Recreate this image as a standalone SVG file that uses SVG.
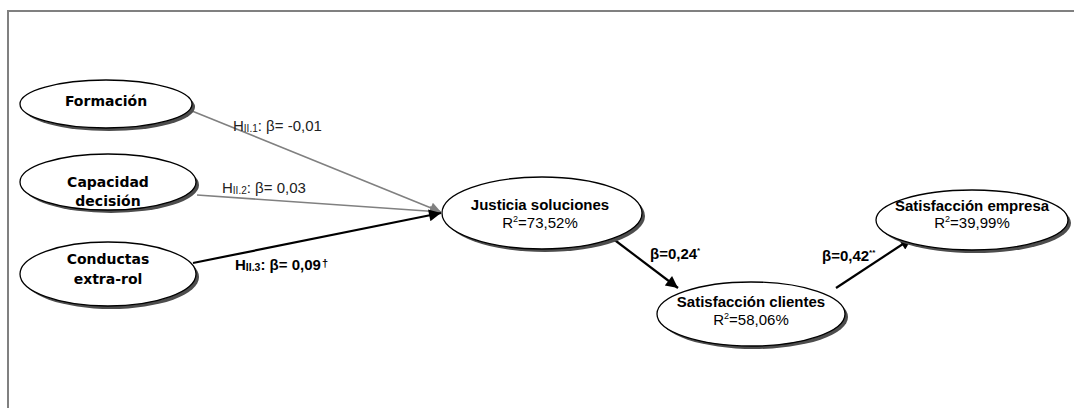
<svg xmlns="http://www.w3.org/2000/svg" width="1074" height="408" viewBox="0 0 1074 408">
  <style>
    .frame { stroke: #808080; stroke-width: 2; fill: none; }
    .shadow { fill: #4d4d4d; }
    .node { fill: #ffffff; stroke: #000000; stroke-width: 1.3; }
    .lbl-left { font-family: "DejaVu Sans", Verdana, sans-serif; font-weight: bold; font-size: 14px; fill: #000; text-anchor: middle; }
    .lbl-bold { font-family: "Liberation Sans", Arial, sans-serif; font-weight: bold; font-size: 15px; fill: #000; text-anchor: middle; }
    .lbl-reg { font-family: "Liberation Sans", Arial, sans-serif; font-size: 15px; fill: #000; text-anchor: middle; }
    .edge-gray { stroke: #808080; stroke-width: 1.6; fill: none; }
    .edge-black { stroke: #000000; stroke-width: 2.2; fill: none; }
    .elbl { font-family: "Liberation Sans", Arial, sans-serif; font-size: 15px; fill: #222; }
    .elbl-b { font-family: "Liberation Sans", Arial, sans-serif; font-size: 15px; font-weight: bold; fill: #000; }
  </style>
  <defs>
    <marker id="arrowGray" viewBox="0 0 10 10" refX="10" refY="5" markerWidth="15" markerHeight="11" markerUnits="userSpaceOnUse" orient="auto">
      <path d="M0,0 L10,5 L0,10 z" fill="#808080"/>
    </marker>
    <marker id="arrowBlack" viewBox="0 0 10 10" refX="10" refY="5" markerWidth="16" markerHeight="12" markerUnits="userSpaceOnUse" orient="auto">
      <path d="M0,0 L10,5 L0,10 z" fill="#000000"/>
    </marker>
  </defs>

  <rect width="1074" height="408" fill="#ffffff"/>

  <!-- outer frame (top and left edges) -->
  <path class="frame" d="M8,408 L8,11 L1074,11"/>

  <!-- connectors -->
  <g id="connectors">
    <line class="edge-gray" x1="192" y1="111" x2="441" y2="212" marker-end="url(#arrowGray)"/>
    <line class="edge-gray" x1="197" y1="195" x2="441" y2="212" marker-end="url(#arrowGray)"/>
    <line class="edge-black" x1="193" y1="263" x2="441" y2="213" marker-end="url(#arrowBlack)"/>
    <line class="edge-black" x1="612" y1="238" x2="678" y2="288" marker-end="url(#arrowBlack)"/>
    <line class="edge-black" x1="836" y1="288" x2="912" y2="238" marker-end="url(#arrowBlack)"/>

    <text class="elbl" x="233" y="131">H<tspan font-size="10" dy="1">II.1</tspan><tspan dy="-1">: β= -0,01</tspan></text>
    <text class="elbl" x="222" y="193">H<tspan font-size="10" dy="1">II.2</tspan><tspan dy="-1">: β= 0,03</tspan></text>
    <text class="elbl-b" x="235" y="270" font-size="16">H<tspan font-size="10.5" dy="1">II.3</tspan><tspan dy="-1">: β= 0,09</tspan><tspan font-size="11" dx="1" dy="-3">†</tspan></text>
    <text class="elbl-b" x="650" y="259">β=0,24<tspan font-size="8" dy="-6">*</tspan></text>
    <text class="elbl-b" x="822" y="261">β=0,42<tspan font-size="8" dy="-6">**</tspan></text>
  </g>

  <g id="formacion">
    <ellipse class="shadow" cx="109" cy="107" rx="86" ry="24"/>
    <ellipse class="node" cx="106" cy="104" rx="86" ry="24"/>
    <text class="lbl-left" x="106" y="106">Formación</text>
  </g>

  <g id="capacidad-decision">
    <ellipse class="shadow" cx="111" cy="185" rx="88" ry="28"/>
    <ellipse class="node" cx="108" cy="182" rx="88" ry="28"/>
    <text class="lbl-left" x="108" y="187">Capacidad</text>
    <text class="lbl-left" x="108" y="206">decisión</text>
  </g>

  <g id="conductas-extra-rol">
    <ellipse class="shadow" cx="111" cy="277" rx="88" ry="32"/>
    <ellipse class="node" cx="108" cy="274" rx="88" ry="32"/>
    <text class="lbl-left" x="108" y="264">Conductas</text>
    <text class="lbl-left" x="108" y="284">extra-rol</text>
  </g>

  <g id="justicia-soluciones">
    <ellipse class="shadow" cx="545" cy="216" rx="100" ry="36"/>
    <ellipse class="node" cx="542" cy="213" rx="100" ry="36"/>
    <text class="lbl-bold" x="540" y="210">Justicia soluciones</text>
    <text class="lbl-reg" x="540" y="228">R<tspan font-size="9" dy="-6">2</tspan><tspan dy="6">=73,52%</tspan></text>
  </g>

  <g id="satisfaccion-clientes">
    <ellipse class="shadow" cx="754" cy="317" rx="94" ry="32"/>
    <ellipse class="node" cx="751" cy="314" rx="94" ry="32"/>
    <text class="lbl-bold" x="751" y="307">Satisfacción clientes</text>
    <text class="lbl-reg" x="751" y="325">R<tspan font-size="9" dy="-6">2</tspan><tspan dy="6">=58,06%</tspan></text>
  </g>

  <g id="satisfaccion-empresa">
    <ellipse class="shadow" cx="975" cy="223" rx="96" ry="30"/>
    <ellipse class="node" cx="972" cy="220" rx="96" ry="30"/>
    <text class="lbl-bold" x="972" y="211">Satisfacción empresa</text>
    <text class="lbl-reg" x="972" y="228">R<tspan font-size="9" dy="-6">2</tspan><tspan dy="6">=39,99%</tspan></text>
  </g>
</svg>
